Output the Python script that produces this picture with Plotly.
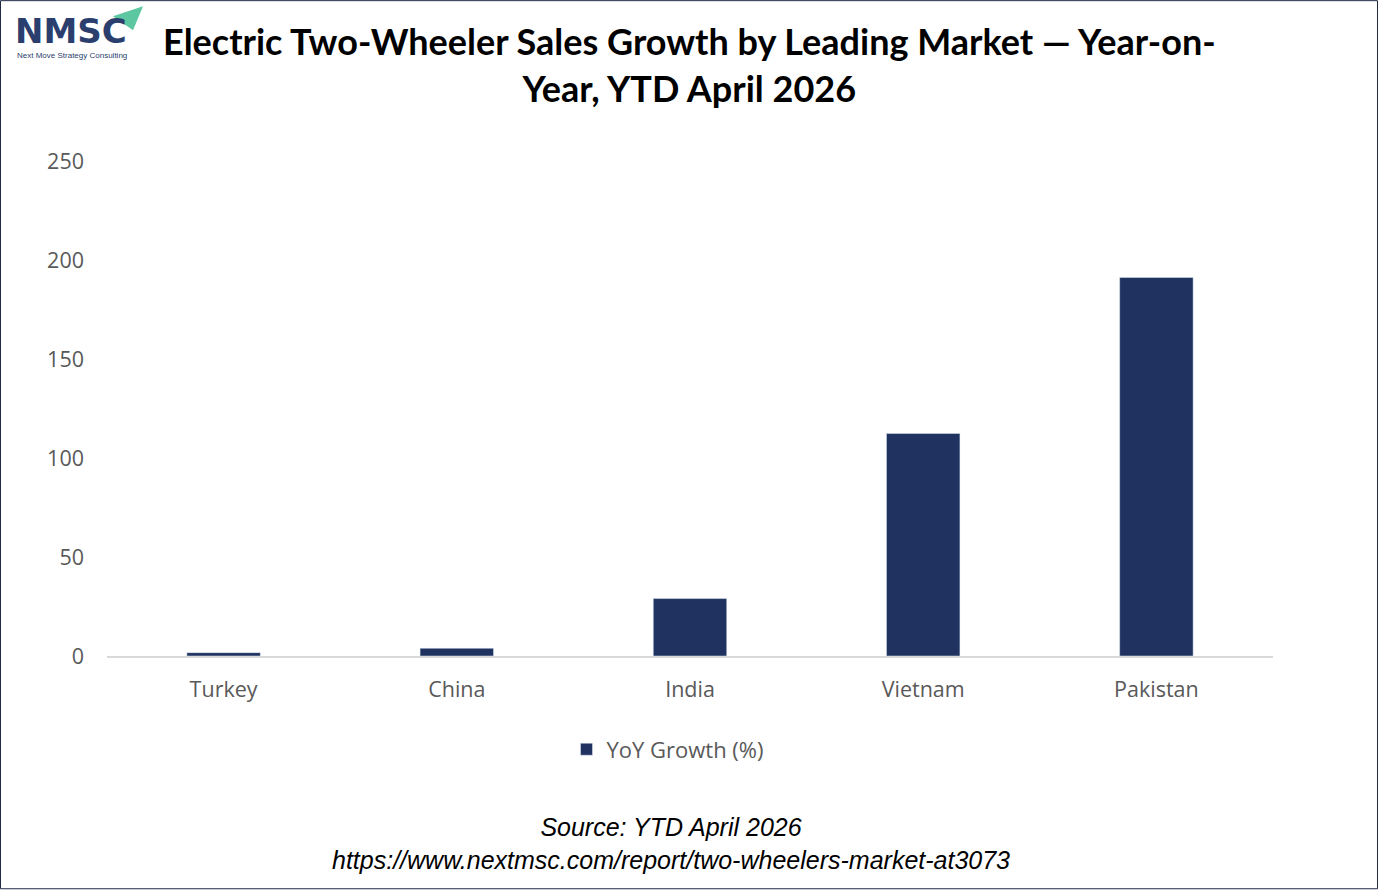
import plotly.graph_objects as go

categories = ["Turkey", "China", "India", "Vietnam", "Pakistan"]
yoy_growth = [1.7, 3.9, 29.0, 112.4, 191.2]
series_name = "YoY Growth (%)"
y_ticks = [0, 50, 100, 150, 200, 250]

W, H = 1378, 890
L, R, T, B = 107, 105, 161, 233.5
pw, ph = W - L - R, H - T - B

def px(x):
    return (x - L) / pw

def py(y):
    return (H - B - y) / ph

fig = go.Figure()
fig.add_trace(go.Bar(
    x=categories, y=yoy_growth, name=series_name,
    marker=dict(color="#1f3260"), width=0.315,
))

fig.update_layout(
    width=W, height=H,
    margin=dict(l=L, r=R, t=T, b=B),
    paper_bgcolor="white", plot_bgcolor="white",
    showlegend=True,
    legend=dict(orientation="h", x=px(668), xanchor="center", y=py(750), yanchor="middle",
                font=dict(family="Open Sans", size=22, color="#595959"),
                itemwidth=30),
    bargap=0.69,
    xaxis=dict(showgrid=False, showline=True, linecolor="#d9d9d9", linewidth=2,
               tickfont=dict(family="Open Sans", size=21.5, color="#595959"),
               ticks="", ticklabelstandoff=13),
    yaxis=dict(range=[0, 250], tickvals=y_ticks, showgrid=False, zeroline=False,
               showline=False, ticks="",
               tickfont=dict(family="Open Sans", size=21.5, color="#595959"),
               ticklabelstandoff=22),
    font=dict(family="Open Sans"),
)

# Title
fig.add_annotation(
    text="<b>Electric Two-Wheeler Sales Growth by Leading Market — Year-on-</b><br><b>Year, YTD April 2026</b>",
    xref="paper", yref="paper", x=px(689), y=py(64), xanchor="center", yanchor="middle",
    showarrow=False, font=dict(family="Lato", size=36, color="#000000"), align="center",
)

# Source
fig.add_annotation(
    text="<i>Source: YTD April 2026</i><br><i>https://www.nextmsc.com/report/two-wheelers-market-at3073</i>",
    xref="paper", yref="paper", x=px(671), y=py(844), xanchor="center", yanchor="middle",
    showarrow=False, font=dict(family="Liberation Sans", size=25, color="#000000"), align="center",
)

# Logo
fig.add_annotation(
    text="<b>NMSC</b>", xref="paper", yref="paper", x=px(13), y=py(31),
    xanchor="left", yanchor="middle", showarrow=False,
    font=dict(family="DejaVu Sans", size=34, color="#2b3f6e"),
)
fig.add_annotation(
    text="Next Move Strategy Consulting", xref="paper", yref="paper", x=px(15), y=py(55),
    xanchor="left", yanchor="middle", showarrow=False,
    font=dict(family="Liberation Sans", size=8, color="#2b3f6e"),
)
fig.add_shape(
    type="path", xref="paper", yref="paper",
    path=f"M {px(113)} {py(16)} L {px(143)} {py(6)} L {px(133)} {py(30)} Z",
    fillcolor="#5cc7a0", line=dict(width=0),
)

# Border
fig.add_shape(
    type="rect", xref="paper", yref="paper",
    x0=px(0.5), x1=px(W - 0.5), y0=py(0.5), y1=py(H - 0.5),
    line=dict(color="#1f2a44", width=1), fillcolor="rgba(0,0,0,0)", layer="above",
)

fig.write_html("out.html")
